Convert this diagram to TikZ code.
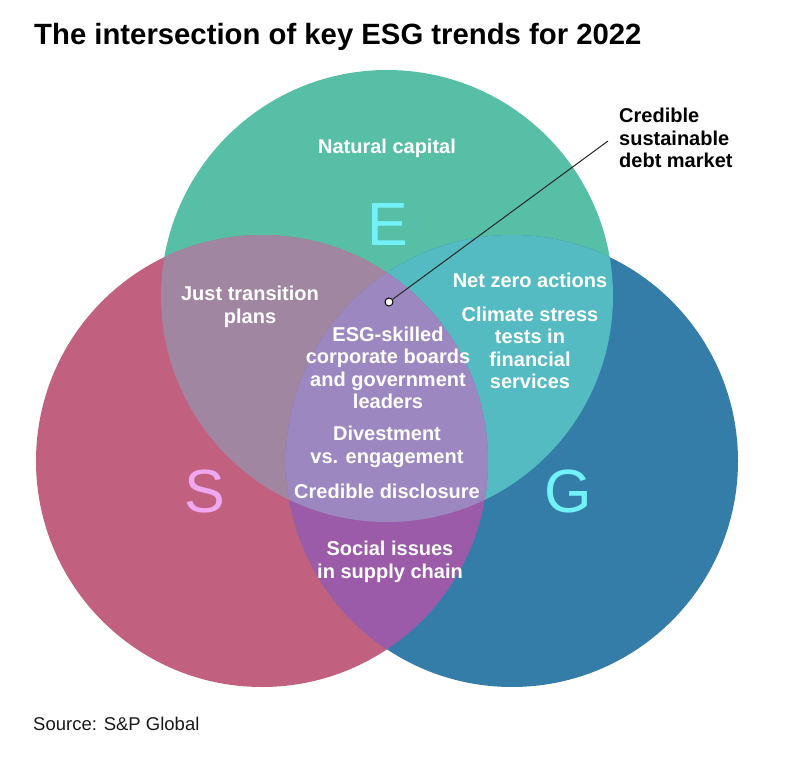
\documentclass[tikz,border=0pt]{standalone}
\usepackage{fontspec}
\setmainfont{Liberation Sans}
\definecolor{cE}{HTML}{58BFA7}
\definecolor{cS}{HTML}{C2617F}
\definecolor{cG}{HTML}{357DA9}
\definecolor{cES}{HTML}{A086A1}
\definecolor{cEG}{HTML}{53BBC1}
\definecolor{cSG}{HTML}{9B5BA8}
\definecolor{cESG}{HTML}{9C87C1}
\definecolor{cLetE}{HTML}{72F2F8}
\definecolor{cLetS}{HTML}{EFA8F0}
\begin{document}
\begin{tikzpicture}[x=1pt,y=-1pt,
  wt/.style={text=white, font=\bfseries\fontsize{20}{22.5}\selectfont, align=center, inner sep=0pt},
  letter/.style={font=\fontsize{61}{61}\selectfont, inner sep=0pt},
  blk/.style={text=black, font=\bfseries\fontsize{20}{22.5}\selectfont, align=left, inner sep=0pt}]
\useasboundingbox[fill=white] (0,0) rectangle (792,762);
\coordinate (oE) at (387,296);
\coordinate (oS) at (262,461);
\coordinate (oG) at (512,461);
% circles
\fill[cE] (oE) circle[radius=226pt];
\fill[cS] (oS) circle[radius=226pt];
\fill[cG] (oG) circle[radius=226pt];
\begin{scope}
  \clip (oE) circle[radius=226pt];
  \fill[cES] (oS) circle[radius=226pt];
  \fill[cEG] (oG) circle[radius=226pt];
\end{scope}
\begin{scope}
  \clip (oS) circle[radius=226pt];
  \fill[cSG] (oG) circle[radius=226pt];
\end{scope}
\begin{scope}
  \clip (oE) circle[radius=226pt];
  \clip (oS) circle[radius=226pt];
  \fill[cESG] (oG) circle[radius=226pt];
\end{scope}
% title and source
\node[anchor=base west, font=\bfseries\fontsize{29.3}{32}\selectfont, inner sep=0pt] (title) at (34,45) {The intersection of key ESG trends for 2022};
\node[anchor=base west, font=\fontsize{18.5}{20}\selectfont, text=black!90, inner sep=0pt] (src) at (33,730) {Source: S\&P Global};
% letters
\node[letter, text=cLetE] (E) at (388,225) {E};
\node[letter, text=cLetS] (S) at (205,491) {S};
\node[letter, text=cLetE] (G) at (568,491) {G};
% texts
\node[wt] (nat) at (387,148) {Natural capital};
\node[wt] (just) at (250,307) {Just transition\\plans};
\node[wt] (net) at (530,280) {Net zero actions};
\node[wt] (clim) at (530,348) {Climate stress\\tests in\\financial\\services};
\node[wt] (skill) at (388,368) {ESG-skilled\\corporate boards\\and government\\leaders};
\node[wt] (div) at (387,447) {Divestment\\vs. engagement};
\node[wt] (disc) at (387,491) {Credible disclosure};
\node[wt] (soc) at (390,562) {Social issues\\in supply chain};
% callout
\node[blk, anchor=west] (lab) at (619,138) {Credible\\sustainable\\debt market};
\coordinate (lead) at (608,141);
\node[circle, draw=black, fill=white, line width=1pt, inner sep=0pt, minimum size=8pt] (dot) at (389,302) {};
\draw[line width=1pt, black!85] (dot) -- (lead);
\end{tikzpicture}
\end{document}
